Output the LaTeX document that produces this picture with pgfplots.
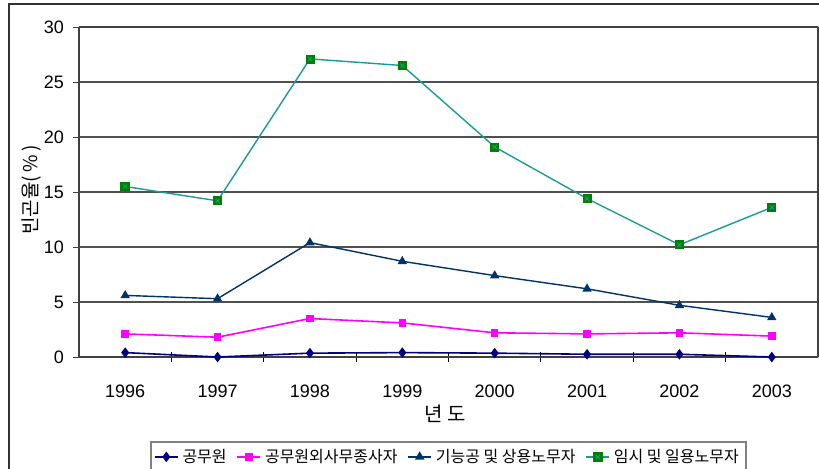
\documentclass[border=0pt]{standalone}
\usepackage{pgfplots}
\pgfplotsset{compat=1.18}
\usepackage{fontspec}
\setmainfont{Liberation Sans}
\newfontfamily\kr{Noto Sans CJK KR}
\definecolor{gridc}{HTML}{505050}
\definecolor{s1}{HTML}{000080}
\definecolor{s2}{HTML}{FF00FF}
\definecolor{s3}{HTML}{003366}
\definecolor{s4line}{HTML}{1A9A9A}
\definecolor{s4mark}{HTML}{008000}
\pgfdeclareplotmark{sqx}{%
  \pgfpathrectangle{\pgfpoint{-\pgfplotmarksize}{-\pgfplotmarksize}}{\pgfpoint{2\pgfplotmarksize}{2\pgfplotmarksize}}%
  \pgfsetfillcolor{s4mark}\pgfsetstrokecolor{s4mark}\pgfusepathqfillstroke
  \pgfsetstrokecolor{s4line}\pgfsetlinewidth{0.4pt}%
  \pgfpathmoveto{\pgfpoint{-0.5\pgfplotmarksize}{-0.5\pgfplotmarksize}}%
  \pgfpathlineto{\pgfpoint{0.5\pgfplotmarksize}{0.5\pgfplotmarksize}}%
  \pgfpathmoveto{\pgfpoint{-0.5\pgfplotmarksize}{0.5\pgfplotmarksize}}%
  \pgfpathlineto{\pgfpoint{0.5\pgfplotmarksize}{-0.5\pgfplotmarksize}}%
  \pgfusepathqstroke
}
\begin{document}
\begin{tikzpicture}
\useasboundingbox (0,0) rectangle (409.5pt,234pt);
\draw[line width=1pt, black!80] (4.5pt,-2pt) -- (4.5pt,232pt) -- (412pt,232pt);
\begin{axis}[
  at={(39.5pt,55.5pt)}, anchor=south west,
  scale only axis, width=369.5pt, height=165pt,
  xmin=-0.5, xmax=7.5, ymin=0, ymax=30,
  xtick={0,...,7},
  xticklabels={1996,1997,1998,1999,2000,2001,2002,2003},
  minor xtick={0.5,1.5,...,6.5},
  major x tick style={draw=none},
  minor x tick style={black, line width=0.6pt},
  minor tick length=5pt,
  xtick align=center,
  ytick={0,5,...,30},
  ytick align=outside, ytick pos=left,
  xtick pos=bottom,
  major tick length=3pt,
  ymajorgrids, grid style={gridc, line width=0.6pt},
  axis line style={gray, line width=0.6pt},
  separate axis lines,
  y axis line style={black!75, line width=0.8pt},
  x axis line style={black!75, line width=0.8pt},
  tick style={black!75},
  /pgf/number format/assume math mode=true,
  xticklabel style={font=\fontsize{9}{10}\selectfont, yshift=-9pt},
  yticklabel style={font=\fontsize{9}{10}\selectfont, xshift=-1pt},
  xlabel={\kr 년 도}, ylabel={\kr 빈곤율(\,\%\,)},
  every axis x label/.style={at={(rel axis cs:0.495,-0.172)}, anchor=center, font=\fontsize{10}{11}\selectfont},
  every axis y label/.style={at={(rel axis cs:-0.064,0.506)}, anchor=center, rotate=90, font=\fontsize{9.5}{10}\selectfont},
  legend style={at={(rel axis cs:0.5,-0.2545)}, anchor=north, draw=gray, line width=0.8pt, font=\kr\fontsize{8}{9}\selectfont, inner sep=1.5pt, /tikz/every even column/.append style={column sep=3pt}},
  legend columns=4,
  legend image code/.code={\draw[mark repeat=2,mark phase=2,#1] plot coordinates {(0cm,0cm) (0.2cm,0cm) (0.4cm,0cm)};},
  legend image post style={line width=0.8pt},
  clip=false,
]
\addplot[s1, line width=0.8pt, mark=diamond*, mark size=2pt, mark options={fill=s1}] coordinates {(0,0.4) (1,0.0) (2,0.35) (3,0.4) (4,0.35) (5,0.25) (6,0.25) (7,0.0)};
\addlegendentry{공무원}
\addplot[s2, line width=0.8pt, mark=square*, mark size=1.5pt, mark options={fill=s2}] coordinates {(0,2.1) (1,1.8) (2,3.5) (3,3.1) (4,2.2) (5,2.1) (6,2.2) (7,1.9)};
\addlegendentry{공무원외사무종사자}
\addplot[s3, line width=0.7pt, mark=triangle*, mark size=2pt, mark options={fill=s3}] coordinates {(0,5.6) (1,5.3) (2,10.4) (3,8.7) (4,7.4) (5,6.2) (6,4.7) (7,3.6)};
\addlegendentry{기능공 및 상용노무자}
\addplot[s4line, line width=0.7pt, mark=sqx, mark size=2pt] coordinates {(0,15.5) (1,14.2) (2,27.1) (3,26.5) (4,19.1) (5,14.4) (6,10.2) (7,13.6)};
\addlegendentry{임시 및 일용노무자}
\end{axis}
\end{tikzpicture}
\end{document}
